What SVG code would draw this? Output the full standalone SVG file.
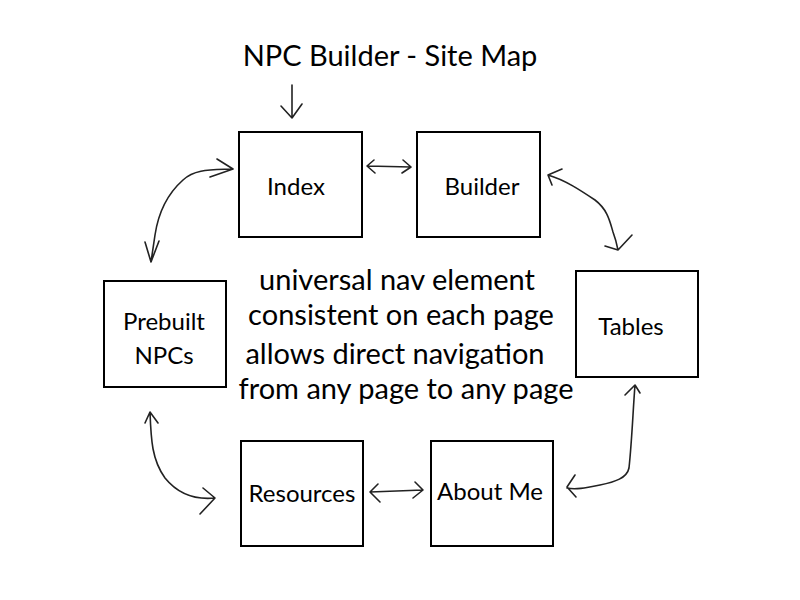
<svg xmlns="http://www.w3.org/2000/svg" width="800" height="600" viewBox="0 0 800 600">
<style>
.box{fill:#fff;stroke:#000;stroke-width:2}
.lbl{font-family:Lato,"Open Sans","Liberation Sans",sans-serif;font-size:24px;fill:#000;text-anchor:middle}
.big{font-family:Lato,"Open Sans","Liberation Sans",sans-serif;font-size:29px;fill:#000;text-anchor:middle}
.ln{fill:none;stroke:#222;stroke-width:1.6;stroke-linecap:round;stroke-linejoin:round}
</style>
<rect width="800" height="600" fill="#fff"/>
<text class="big" x="390" y="66" font-size="28">NPC Builder - Site Map</text>
<g id="note">
<text class="big" x="397" y="290">universal nav element</text>
<text class="big" x="401" y="325">consistent on each page</text>
<text class="big" x="395" y="364">allows direct navigation</text>
<text class="big" x="406" y="399">from any page to any page</text>
</g>
<g id="index"><rect class="box" x="239" y="132" width="123" height="105"/><text class="lbl" x="296" y="195">Index</text></g>
<g id="builder"><rect class="box" x="417" y="132" width="123" height="105"/><text class="lbl" x="482" y="195">Builder</text></g>
<g id="prebuilt"><rect class="box" x="104" y="281" width="122" height="106"/><text class="lbl" x="164" y="330">Prebuilt</text><text class="lbl" x="164" y="364">NPCs</text></g>
<g id="tables"><rect class="box" x="576" y="271" width="122" height="106"/><text class="lbl" x="631" y="335">Tables</text></g>
<g id="resources"><rect class="box" x="241" y="441" width="122" height="105"/><text class="lbl" x="302" y="502">Resources</text></g>
<g id="aboutme"><rect class="box" x="431" y="441" width="122" height="105"/><text class="lbl" x="490" y="500">About Me</text></g>
<g id="connectors">
<path class="ln" d="M292,85 L292,118 M281,106 L292,118 L302,104"/>
<path class="ln" d="M367,166 L411,167 M374,160 L367,166 L375,173 M403,160 L411,167 L402,173"/>
<path class="ln" d="M233,169 C210,170 195,169 183,180 C165,196 158,215 155,235 C153,248 152,255 151,262 M217,159 L233,169 L210,177 M145,242 L151,262 L159,241"/>
<path class="ln" d="M548,175 C565,180 580,190 595,200 C608,210 610,222 613,232 C616,240 617,245 618,250 M562,169 L548,175 L552,185 M605,246 L618,250 L632,235"/>
<path class="ln" d="M635,385 C633,410 632,440 629,468 C627,478 615,482 600,485 C585,488 575,490 567,488 M625,395 L635,385 L640,393 M575,475 L567,487 L576,497"/>
<path class="ln" d="M150,412 C151,440 152,460 165,478 C178,494 195,500 215,498 M145,423 L150,412 L158,423 M203,488 L215,498 L200,514"/>
<path class="ln" d="M370,492 L423,490 M378,484 L370,492 L380,502 M415,482 L423,490 L413,498"/>
</g>
</svg>
